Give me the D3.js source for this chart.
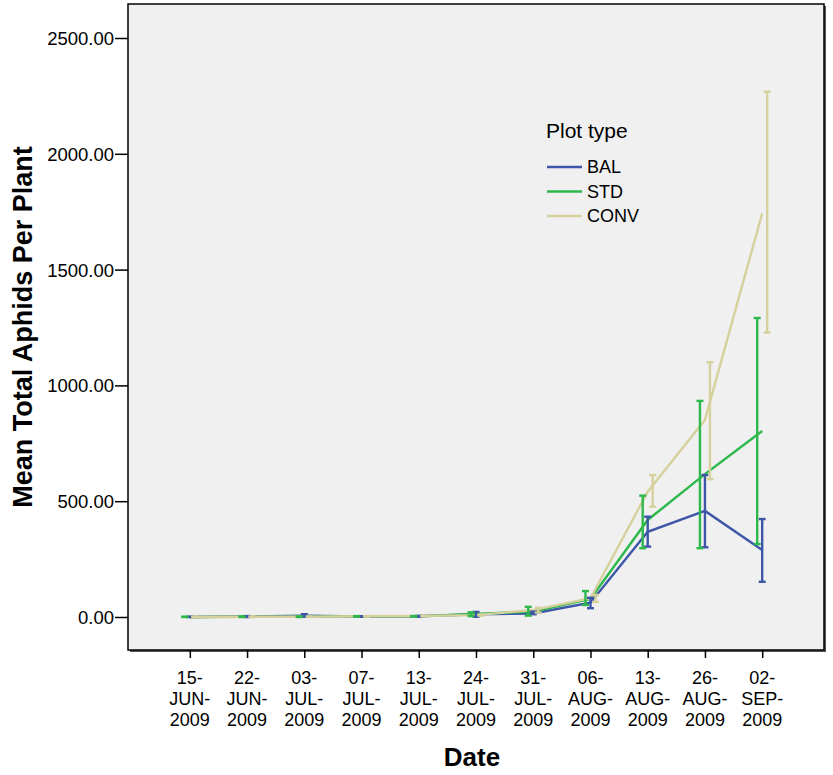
<!DOCTYPE html>
<html>
<head>
<meta charset="utf-8">
<script src="https://cdn.jsdelivr.net/npm/d3@7"></script>
<style>
  body { margin: 0; background: #ffffff; }
  svg { display: block; font-family: "Liberation Sans", Arial, sans-serif; }
</style>
</head>
<body>
<div id="chart"></div>
<script>
// data
const dates = ["15-JUN-2009", "22-JUN-2009", "03-JUL-2009", "07-JUL-2009", "13-JUL-2009",
               "24-JUL-2009", "31-JUL-2009", "06-AUG-2009", "13-AUG-2009", "26-AUG-2009", "02-SEP-2009"];

const balMean  = [0, 2, 6, 2, 3, 12, 15, 62, 368, 458, 289];
const balLow   = [0, 0, 1, 1, 1, 1, 12, 38, 304, 301, 152];
const balHigh  = [1, 4, 12, 3, 5, 22, 23, 83, 433, 613, 423];

const stdMean  = [0, 1, 1, 3, 3, 13, 24, 78, 419, 617, 803];
const stdLow   = [0, 0, 0, 2, 2, 4, 6, 52, 297, 297, 315];
const stdHigh  = [1, 2, 2, 4, 4, 20, 44, 112, 524, 933, 1291];

const convMean = [0, 1, 1, 3, 4, 8, 30, 81, 541, 851, 1743];
const convLow  = [0, 0, 0, 2, 3, 6, 19, 65, 476, 595, 1228];
const convHigh = [1, 2, 2, 4, 5, 10, 40, 95, 613, 1100, 2268];

const yTicks = [0, 500, 1000, 1500, 2000, 2500];

const series = [
    {name: "BAL",  color: "#3d56a8", mean: balMean,  low: balLow,  high: balHigh,  dodge: 0},
    {name: "STD",  color: "#2cb84b", mean: stdMean,  low: stdLow,  high: stdHigh,  dodge: -5},
    {name: "CONV", color: "#d5d09c", mean: convMean, low: convLow, high: convHigh, dodge: 5}
];

const W = 833, H = 775;
const frame = {left: 128, right: 824, top: 4, bottom: 650};

const svg = d3.select("#chart")
              .append("svg")
              .attr("width", W)
              .attr("height", H);

const x = d3.scalePoint()
            .domain(dates)
            .range([frame.left, frame.right])
            .padding(1.08);

const y = d3.scaleLinear()
            .domain([0, 2500])
            .range([617, 38]);

// plot background + frame with a little shadow
svg.append("rect")
   .attr("x", frame.left + 2)
   .attr("y", frame.top + 2)
   .attr("width", frame.right - frame.left)
   .attr("height", frame.bottom - frame.top)
   .attr("fill", "#555");

svg.append("rect")
   .attr("x", frame.left)
   .attr("y", frame.top)
   .attr("width", frame.right - frame.left)
   .attr("height", frame.bottom - frame.top)
   .attr("fill", "#f0f0f0")
   .attr("stroke", "#000")
   .attr("stroke-width", 1.5);

// y axis
const yAxis = svg.append("g")
   .attr("transform", `translate(${frame.left},0)`)
   .call(d3.axisLeft(y).tickValues(yTicks).tickFormat(d3.format(".2f")).tickSize(13).tickPadding(1));
yAxis.select(".domain").remove();
yAxis.selectAll("line").attr("stroke", "#000").attr("stroke-width", 1.5);
yAxis.selectAll("text")
     .attr("font-size", 18.5)
     .attr("font-family", "Liberation Sans, Arial, sans-serif")
     .attr("fill", "#000")
     .attr("dy", "0.35em");

// x axis
const xAxis = svg.append("g")
   .attr("transform", `translate(0,${frame.bottom})`)
   .call(d3.axisBottom(x).tickSize(8).tickFormat(""));
xAxis.select(".domain").remove();
xAxis.selectAll("line").attr("stroke", "#000").attr("stroke-width", 1.5);

dates.forEach(d => {
    const parts = d.split("-");
    const lines = [parts[0] + "-", parts[1] + "-", parts[2]];
    const t = svg.append("text")
                 .attr("text-anchor", "middle")
                 .attr("font-size", 18)
                 .attr("fill", "#000");
    lines.forEach((s, i) => {
        t.append("tspan")
         .attr("x", x(d))
         .attr("y", 684 + i * 21)
         .text(s);
    });
});

// axis titles
svg.append("text")
   .attr("x", (frame.left + frame.right) / 2 - 4)
   .attr("y", 766)
   .attr("text-anchor", "middle")
   .attr("font-size", 26)
   .attr("font-weight", "bold")
   .text("Date");

svg.append("text")
   .attr("transform", `translate(32,327) rotate(-90)`)
   .attr("text-anchor", "middle")
   .attr("font-size", 27)
   .attr("font-weight", "bold")
   .text("Mean Total Aphids Per Plant");

// lines
const line = d3.line()
               .x(d => x(d.date))
               .y(d => y(d.v));

series.forEach(s => {
    svg.append("path")
       .datum(dates.map((d, i) => ({date: d, v: s.mean[i]})))
       .attr("fill", "none")
       .attr("stroke", s.color)
       .attr("stroke-width", 2.4)
       .attr("d", line);
});

// error bars, dodged a little per series
series.forEach(s => {
    dates.forEach((d, i) => {
        const cx = x(d) + s.dodge;
        const g = svg.append("g")
                     .attr("stroke", s.color)
                     .attr("stroke-width", 2.4);
        g.append("line")
         .attr("x1", cx).attr("x2", cx)
         .attr("y1", y(s.low[i])).attr("y2", y(s.high[i]));
        [s.low[i], s.high[i]].forEach(v => {
            g.append("line")
             .attr("x1", cx - 3.5).attr("x2", cx + 3.5)
             .attr("y1", y(v)).attr("y2", y(v));
        });
    });
});

// legend
const legend = svg.append("g")
                  .attr("transform", "translate(546,0)");

legend.append("text")
      .attr("x", 0)
      .attr("y", 138)
      .attr("font-size", 21)
      .text("Plot type");

series.forEach((s, i) => {
    const ly = 167 + i * 24.5;
    legend.append("line")
          .attr("x1", 1).attr("x2", 36)
          .attr("y1", ly).attr("y2", ly)
          .attr("stroke", s.color)
          .attr("stroke-width", 2.4);
    legend.append("text")
          .attr("x", 41)
          .attr("y", ly + 6)
          .attr("font-size", 18)
          .text(s.name);
});
</script>
</body>
</html>
